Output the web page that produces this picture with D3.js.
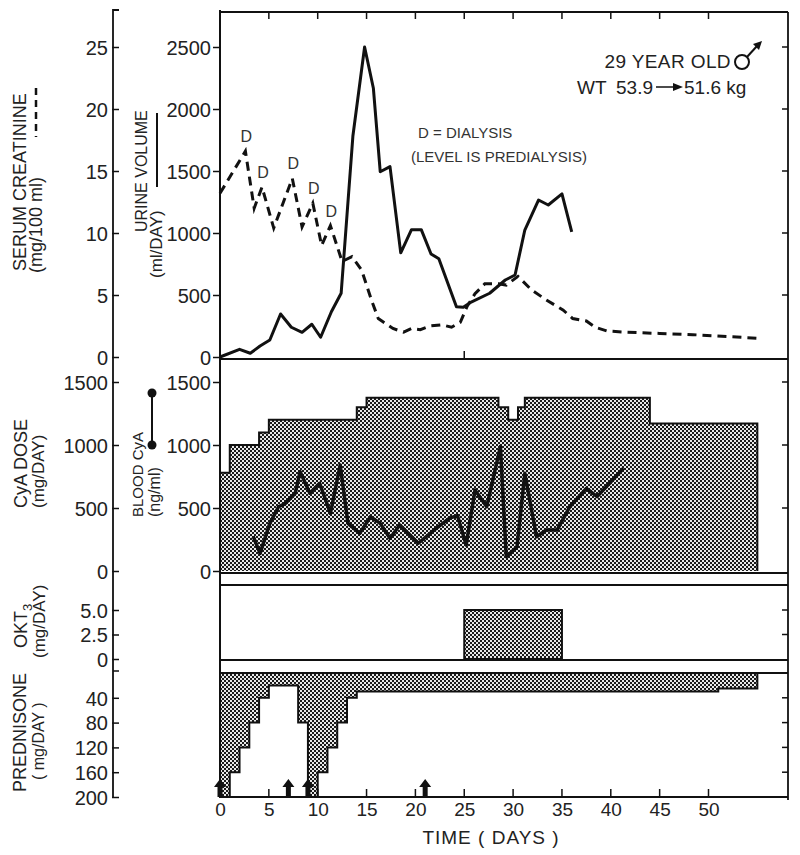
<!DOCTYPE html>
<html>
<head>
<meta charset="utf-8">
<script src="https://cdn.jsdelivr.net/npm/d3@7"></script>
<style>
body{margin:0;background:#fff;}
svg{display:block;font-family:"Liberation Sans",Arial,sans-serif;}
</style>
</head>
<body>
<div id="plot"></div>
<script>
// ---- data ----
var creatDays = [0,2.6,3.5,4.3,5.5,7.4,8.4,9.5,10.4,11.3,12.5,13.5,14.5,15.5,16.2,17.7,18.8,19.6,20.5,21.5,22.7,23.7,24.6,25.3,26.1,27.1,28.5,29.3,30.5,31.9,33.4,35.1,36.1,37.5,38.4,39.6,41.6,45,48.4,51.9,55.4];
var creatVals = [13.2,16.6,12.0,13.7,10.4,14.4,10.5,12.4,9.0,10.6,7.7,8.1,7.0,4.6,3.1,2.3,2.0,2.3,2.2,2.5,2.6,2.4,2.8,4.1,5.1,5.9,5.9,5.8,6.5,5.4,4.6,3.8,3.1,2.9,2.4,2.1,2.0,1.9,1.8,1.65,1.5];
var dialysisDays = [2.6,4.3,7.4,9.5,11.3];
var dialysisVals = [16.6,13.7,14.4,12.4,10.6];

var urineDays = [0,2.0,3.1,4.1,5.1,6.2,7.3,8.4,9.4,10.3,11.4,12.4,13.6,14.8,15.7,16.4,17.4,18.5,19.6,20.6,21.6,22.4,24.2,24.9,25.6,27.6,29.2,30.2,31.2,32.6,33.6,35.0,36.0];
var urineVals = [0,62,30,89,137,347,240,199,264,159,365,514,1780,2500,2167,1494,1535,840,1027,1027,831,793,406,401,438,514,621,661,1024,1266,1226,1315,1010];

// CyA dose: step starts and dose held until next start
var cyaDoseDays = [0,1,4,5,14,15,28.5,29.5,30.5,31.2,44,55];
var cyaDoseVals = [780,1000,1100,1200,1300,1375,1300,1200,1300,1375,1170];

var bloodCyaDays = [3.4,4.1,5.1,6.0,6.7,7.7,8.2,9.2,10.2,11.3,12.3,13.1,14.3,15.4,16.4,17.4,18.4,20.3,22.0,23.5,24.3,25.2,26.1,27.3,28.7,29.3,30.4,31.2,32.4,33.4,34.5,35.8,37.5,38.6,41.3];
var bloodCyaVals = [275,140,378,510,537,617,788,617,696,458,841,378,299,431,378,260,365,220,330,420,440,206,643,510,987,114,193,775,272,325,325,510,656,590,815];

var okt3Days = [25,35];
var okt3Vals = [5];

var predDays = [0,1,2,3,4,5,8,9,10,11,12,13,14,51,55];
var predVals = [200,160,120,80,40,20,80,200,160,120,80,40,30,25];

var arrowDays = [0,7,9,21];

var xTicks = [0,5,10,15,20,25,30,35,40,45,50];
var creatTicks = [0,5,10,15,20,25];
var urineTicks = [0,500,1000,1500,2000,2500];
var cyaTicks = [0,500,1000,1500];
var okt3Ticks = [0,2.5,5.0];
var predTicks = [40,80,120,160,200];

// ---- drawing setup ----
var width = 800, height = 855;
var svg = d3.select('#plot').append('svg')
    .attr('width',width)
    .attr('height',height);

var defs = svg.append('defs');
var pat = defs.append('pattern')
    .attr('id','stip')
    .attr('patternUnits','userSpaceOnUse')
    .attr('width',4).attr('height',4);
pat.append('rect').attr('width',4).attr('height',4).attr('fill','#e8e8e8');
pat.append('rect').attr('x',0).attr('y',0).attr('width',2).attr('height',2).attr('fill','#1a1a1a');
pat.append('rect').attr('x',2).attr('y',2).attr('width',2).attr('height',2).attr('fill','#1a1a1a');

var frameL = 220, frameR = 788, axL = 113;
var x = d3.scaleLinear().domain([0,50]).range([220,708.5]);
var yCreat = d3.scaleLinear().domain([0,25]).range([357,47]);
var yUrine = d3.scaleLinear().domain([0,2500]).range([357,47]);
var yCya = d3.scaleLinear().domain([0,1500]).range([571,382]);
var yOkt = d3.scaleLinear().domain([0,5]).range([659,610]);
var yPred = d3.scaleLinear().domain([0,200]).range([673,797]);

var ink = '#111';

// ---- fills ----
function stepPoints(days, vals){
    var pts = [];
    vals.forEach(function(v,i){
        pts.push([days[i],v]);
        pts.push([days[i+1],v]);
    });
    return pts;
}

// CyA dose area
var cyaPts = stepPoints(cyaDoseDays, cyaDoseVals);
svg.append('path')
    .attr('d', d3.area().x(function(d){return x(d[0]);}).y0(yCya(0)).y1(function(d){return yCya(d[1]);})(cyaPts))
    .attr('fill','url(#stip)')
    .attr('stroke','none');
svg.append('path')
    .attr('d', d3.line().x(function(d){return x(d[0]);}).y(function(d){return yCya(d[1]);})(
        [[cyaDoseDays[0],0]].concat(cyaPts).concat([[cyaDoseDays[cyaDoseDays.length-1],0]])))
    .attr('fill','none').attr('stroke',ink).attr('stroke-width',2);

// OKT3 box
svg.append('rect')
    .attr('x',x(okt3Days[0])).attr('y',yOkt(okt3Vals[0]))
    .attr('width',x(okt3Days[1])-x(okt3Days[0]))
    .attr('height',yOkt(0)-yOkt(okt3Vals[0]))
    .attr('fill','url(#stip)').attr('stroke',ink).attr('stroke-width',2);

// prednisone (hangs down from top of its panel)
var predPts = stepPoints(predDays, predVals);
svg.append('path')
    .attr('d', d3.area().x(function(d){return x(d[0]);}).y0(yPred(0)).y1(function(d){return yPred(d[1]);})(predPts))
    .attr('fill','url(#stip)')
    .attr('stroke','none');
svg.append('path')
    .attr('d', d3.line().x(function(d){return x(d[0]);}).y(function(d){return yPred(d[1]);})(
        [[predDays[0],0]].concat(predPts).concat([[predDays[predDays.length-1],0]])))
    .attr('fill','none').attr('stroke',ink).attr('stroke-width',2);

// ---- frame lines ----
var hLines = [12,359,573,585,660,673,797];
hLines.forEach(function(yy){
    svg.append('line')
        .attr('x1',frameL).attr('x2',frameR)
        .attr('y1',yy).attr('y2',yy)
        .attr('stroke',ink).attr('stroke-width',1.8);
});
svg.append('line').attr('x1',frameL).attr('x2',frameL).attr('y1',10).attr('y2',797)
    .attr('stroke',ink).attr('stroke-width',2);
svg.append('line').attr('x1',frameR).attr('x2',frameR).attr('y1',12).attr('y2',800)
    .attr('stroke',ink).attr('stroke-width',1.8);
svg.append('path').attr('d','M'+(axL+6)+',10 L'+axL+',10 L'+axL+',797')
    .attr('fill','none').attr('stroke',ink).attr('stroke-width',1.8);

// ---- axes ----
var font = 20;
function leftAxis(xpos, scale, ticks, fmt, side){
    var ax = (side==='out') ? d3.axisRight(scale) : d3.axisLeft(scale);
    var g = svg.append('g')
        .attr('transform','translate('+xpos+',0)')
        .call(ax.tickValues(ticks).tickSize(6).tickFormat(fmt));
    g.select('.domain').remove();
    g.selectAll('line').attr('stroke',ink).attr('stroke-width',1.5);
    g.selectAll('text')
        .attr('fill','#222')
        .style('font-size',font+'px')
        .attr('text-anchor','end')
        .attr('dy','0.36em');
    if(side==='out'){
        g.selectAll('text').attr('x',-5);
        g.selectAll('line').attr('x1',-1).attr('x2',6);
    } else {
        g.selectAll('text').attr('x',-9);
        g.selectAll('line').attr('x1',-7).attr('x2',0);
    }
    return g;
}
var fInt = d3.format('d');
leftAxis(axL, yCreat, creatTicks, fInt, 'out');
leftAxis(axL, yCya, cyaTicks, fInt, 'out');
leftAxis(axL, yOkt, okt3Ticks, function(d){return d===0?'0':d3.format('.1f')(d);}, 'out');
leftAxis(axL, yPred, predTicks, fInt, 'out');
// unlabelled prednisone zero tick
svg.append('line').attr('x1',axL).attr('x2',axL+6).attr('y1',yPred(0)-2).attr('y2',yPred(0)-2)
    .attr('stroke',ink).attr('stroke-width',1.5);
leftAxis(frameL, yUrine, urineTicks, fInt, 'in');
leftAxis(frameL, yCya, cyaTicks, fInt, 'in');

// right border ticks
function rightTicks(scale, ticks){
    svg.append('g').selectAll('line').data(ticks).enter().append('line')
        .attr('x1',frameR-6).attr('x2',frameR)
        .attr('y1',function(d){return scale(d);}).attr('y2',function(d){return scale(d);})
        .attr('stroke',ink).attr('stroke-width',1.5);
}
rightTicks(yUrine,[500,1000,1500,2000,2500]);
rightTicks(yCya,[500,1000,1500]);
rightTicks(yOkt,[2.5,5]);
rightTicks(yPred,[40,80,120,160]);

// top border ticks
svg.append('g').selectAll('line').data(xTicks.slice(1)).enter().append('line')
    .attr('x1',function(d){return x(d);}).attr('x2',function(d){return x(d);})
    .attr('y1',12).attr('y2',19)
    .attr('stroke',ink).attr('stroke-width',1.5);
// single tick on top panel base
svg.append('line').attr('x1',x(25)).attr('x2',x(25)).attr('y1',351).attr('y2',359)
    .attr('stroke',ink).attr('stroke-width',1.5);

// bottom time axis
var xg = svg.append('g')
    .attr('transform','translate(0,797)')
    .call(d3.axisBottom(x).tickValues(xTicks).tickSize(0).tickPadding(6));
xg.select('.domain').remove();
xg.selectAll('text').attr('fill','#222').style('font-size','19px');
svg.append('g').selectAll('line').data(xTicks.slice(1)).enter().append('line')
    .attr('x1',function(d){return x(d);}).attr('x2',function(d){return x(d);})
    .attr('y1',789).attr('y2',797)
    .attr('stroke',ink).attr('stroke-width',1.5);
svg.append('text')
    .attr('x',491).attr('y',844)
    .attr('text-anchor','middle')
    .attr('fill','#222')
    .style('font-size','19px')
    .style('letter-spacing','1px')
    .text('TIME ( DAYS )');

// ---- lines ----
svg.append('path')
    .attr('d', d3.line().x(function(d,i){return x(creatDays[i]);}).y(function(d){return yCreat(d);})(creatVals))
    .attr('fill','none').attr('stroke',ink).attr('stroke-width',3)
    .attr('stroke-dasharray','9,6');
svg.append('path')
    .attr('d', d3.line().x(function(d,i){return x(urineDays[i]);}).y(function(d){return yUrine(d);})(urineVals))
    .attr('fill','none').attr('stroke',ink).attr('stroke-width',3)
    .attr('stroke-linejoin','round');
svg.append('path')
    .attr('d', d3.line().x(function(d,i){return x(bloodCyaDays[i]);}).y(function(d){return yCya(d);})(bloodCyaVals))
    .attr('fill','none').attr('stroke',ink).attr('stroke-width',3.5)
    .attr('stroke-linejoin','round');

// dialysis markers
svg.append('g').selectAll('text').data(dialysisVals).enter().append('text')
    .attr('x',function(d,i){return x(dialysisDays[i])+1;})
    .attr('y',function(d){return yCreat(d)-9;})
    .attr('text-anchor','middle')
    .attr('fill','#333')
    .style('font-size','16px')
    .text('D');

// steroid pulse arrows
svg.append('g').selectAll('path').data(arrowDays).enter().append('path')
    .attr('d',function(d){
        var cx = x(d);
        return 'M'+cx+',779 L'+(cx+6)+',787 L'+(cx+2.5)+',787 L'+(cx+2.5)+',797 L'+(cx-2.5)+',797 L'+(cx-2.5)+',787 L'+(cx-6)+',787 Z';
    })
    .attr('fill',ink);

// ---- annotation text ----
svg.append('text').attr('x',418).attr('y',138).attr('fill','#333').style('font-size','15px').text('D = DIALYSIS');
svg.append('text').attr('x',411).attr('y',162).attr('fill','#333').style('font-size','15px').text('(LEVEL IS PREDIALYSIS)');

svg.append('text').attr('x',731).attr('y',68).attr('text-anchor','end').attr('fill','#222')
    .style('font-size','19px').style('letter-spacing','0.4px').text('29 YEAR OLD');
svg.append('circle').attr('cx',742).attr('cy',62).attr('r',7).attr('fill','none').attr('stroke',ink).attr('stroke-width',2);
svg.append('line').attr('x1',747).attr('y1',57).attr('x2',757).attr('y2',46).attr('stroke',ink).attr('stroke-width',2);
svg.append('path').attr('d','M762,41 L753,44 L759,50 Z').attr('fill',ink);

svg.append('text').attr('x',577).attr('y',94).attr('fill','#222').style('font-size','19px').text('WT');
svg.append('text').attr('x',616).attr('y',94).attr('fill','#222').style('font-size','19px').text('53.9');
svg.append('line').attr('x1',656).attr('y1',87).attr('x2',674).attr('y2',87).attr('stroke',ink).attr('stroke-width',1.5);
svg.append('path').attr('d','M683,87 L673,83 L673,91 Z').attr('fill',ink);
svg.append('text').attr('x',684).attr('y',94).attr('fill','#222').style('font-size','19px').text('51.6 kg');

// ---- rotated axis titles ----
function vlabel(xb, yb, txt, size){
    return svg.append('text')
        .attr('transform','translate('+xb+','+yb+') rotate(-90)')
        .attr('text-anchor','start')
        .attr('fill','#222')
        .style('font-size',size+'px')
        .text(txt);
}
vlabel(26,271,'SERUM CREATININE',18);
vlabel(42,273,'(mg/100 ml)',18);
svg.append('line').attr('x1',36).attr('x2',36).attr('y1',88).attr('y2',137)
    .attr('stroke',ink).attr('stroke-width',2.5).attr('stroke-dasharray','7,5');

vlabel(147,232,'URINE VOLUME',16);
vlabel(162,278,'(ml/DAY)',17);
svg.append('line').attr('x1',157).attr('x2',157).attr('y1',113).attr('y2',187)
    .attr('stroke',ink).attr('stroke-width',2);

vlabel(27,508,'CyA DOSE',18);
vlabel(44,508,'(mg/DAY)',17);
vlabel(143,517,'BLOOD CyA',15);
vlabel(160,517,'(ng/ml)',16);
svg.append('line').attr('x1',152).attr('x2',152).attr('y1',393).attr('y2',445)
    .attr('stroke',ink).attr('stroke-width',2);
svg.append('circle').attr('cx',152).attr('cy',393).attr('r',4.5).attr('fill',ink);
svg.append('circle').attr('cx',152).attr('cy',445).attr('r',4.5).attr('fill',ink);

var okt = vlabel(27,648,'OKT',18);
okt.append('tspan').attr('dy',5).style('font-size','13px').text('3');
vlabel(45,658,'(mg/DAY)',17);

vlabel(26,792,'PREDNISONE',18);
vlabel(44,780,'( mg/DAY )',16);
</script>
</body>
</html>
